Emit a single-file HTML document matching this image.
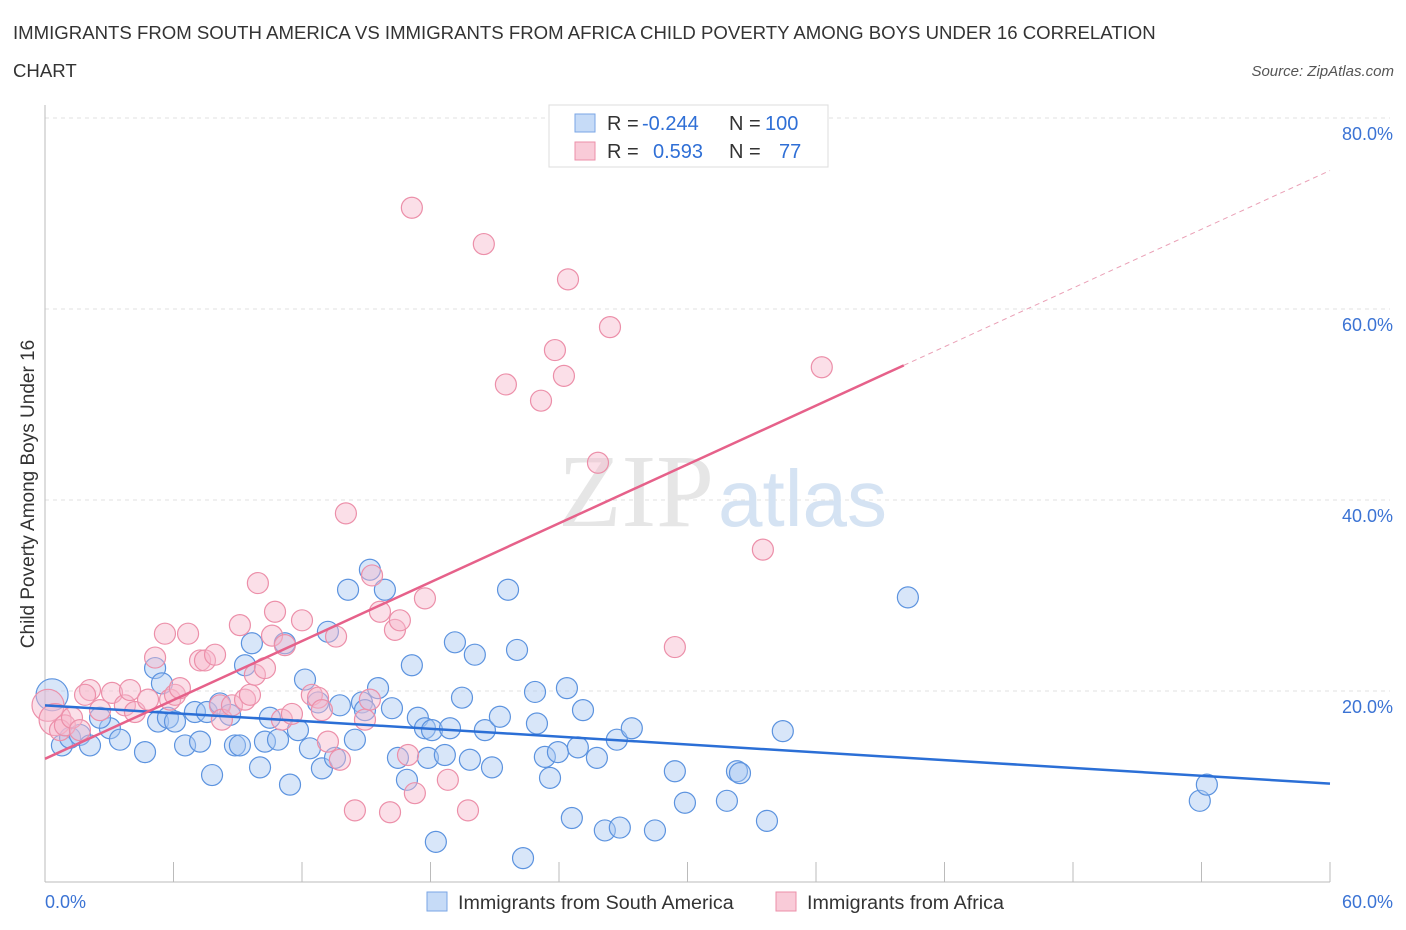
<!DOCTYPE html>
<html><head><meta charset="utf-8"><style>
body{margin:0;background:#fff;font-family:"Liberation Sans",sans-serif}
svg{display:block}
</style></head><body>
<svg id="chart" width="1406" height="930" xmlns="http://www.w3.org/2000/svg">
<text x="13" y="39" font-size="18.6" fill="#333">IMMIGRANTS FROM SOUTH AMERICA VS IMMIGRANTS FROM AFRICA CHILD POVERTY AMONG BOYS UNDER 16 CORRELATION</text>
<text x="13" y="77" font-size="18.6" fill="#333">CHART</text>
<text x="1394" y="76" font-size="15" fill="#555" font-style="italic" text-anchor="end">Source: ZipAtlas.com</text>
<g id="grid"></g>
<text x="714" y="526" font-size="104" fill="#e6e6e6" text-anchor="end" font-family="Liberation Serif">ZIP</text>
<text x="718" y="526" font-size="80" fill="#d5e3f3">atlas</text>
<g id="marks"></g>
<text transform="translate(34,494) rotate(-90)" font-size="19" fill="#333" text-anchor="middle">Child Poverty Among Boys Under 16</text>
<g>
<rect x="549" y="105" width="279" height="62" fill="#fff" stroke="#ddd"/>
<rect x="575" y="114" width="20" height="18" fill="#c6dbf7" stroke="#7aa6e6"/>
<text x="607" y="130" font-size="20" fill="#333">R = </text><text x="642" y="130" font-size="20" fill="#2f6fd6">-0.244</text>
<text x="729" y="130" font-size="20" fill="#333">N = </text><text x="765" y="130" font-size="20" fill="#2f6fd6">100</text>
<rect x="575" y="142" width="20" height="18" fill="#f9cbd8" stroke="#ec8fa9"/>
<text x="607" y="158" font-size="20" fill="#333">R = </text><text x="653" y="158" font-size="20" fill="#2f6fd6">0.593</text>
<text x="729" y="158" font-size="20" fill="#333">N = </text><text x="779" y="158" font-size="20" fill="#2f6fd6">77</text>
</g>
<g>
<rect x="427" y="892" width="20" height="19" fill="#c6dbf7" stroke="#7aa6e6"/>
<text x="458" y="909" font-size="19.7" fill="#333">Immigrants from South America</text>
<rect x="776" y="892" width="20" height="19" fill="#f9cbd8" stroke="#ec8fa9"/>
<text x="807" y="909" font-size="19.7" fill="#333">Immigrants from Africa</text>
</g>
</svg>
<script>
const yTicks=[20,40,60,80];
const xTickLabels=["0.0%","60.0%"];
const blueX=[0.33,0.79,1.17,1.63,2.10,3.03,3.50,2.57,4.67,5.14,5.46,5.28,5.74,6.07,6.54,7.00,7.24,7.56,7.80,8.17,8.64,8.87,9.10,9.34,9.66,10.04,10.27,10.50,10.88,11.20,11.44,11.81,12.14,12.37,12.75,12.93,13.21,13.54,13.77,14.15,14.47,14.80,14.94,15.17,15.55,15.87,16.20,16.48,16.90,17.13,17.41,17.74,17.88,18.07,18.25,18.67,18.91,19.14,19.47,19.84,20.07,20.54,20.87,21.24,21.62,22.04,22.32,22.88,22.97,23.34,23.58,23.95,24.37,24.60,24.88,25.12,25.77,26.14,26.70,26.84,27.40,28.48,29.41,29.88,31.84,32.31,32.45,33.71,34.45,40.29,53.92,54.25];
const blueY=[19.6,14.3,15.1,15.4,14.3,16.1,14.9,17.2,13.6,22.4,20.8,16.8,17.2,16.8,14.3,17.8,14.7,17.8,11.2,18.7,17.5,14.3,14.3,22.7,25.0,12.0,14.7,17.2,14.9,25.0,10.2,15.9,21.2,14.0,18.8,11.9,26.2,13.0,18.5,30.6,14.9,18.8,18.0,32.7,20.3,30.6,18.2,13.0,10.7,22.7,17.2,16.1,13.0,15.9,4.2,13.3,16.1,25.1,19.3,12.8,23.8,15.9,12.0,17.3,30.6,24.3,2.5,19.9,16.6,13.1,10.9,13.6,20.3,6.7,14.1,18.0,13.0,5.4,14.9,5.7,16.1,5.4,11.6,8.3,8.5,11.6,11.4,6.4,15.8,29.8,8.5,10.2];
const pinkX=[0.14,0.47,0.70,0.93,1.26,1.63,2.10,1.87,2.57,3.13,3.73,3.97,4.20,4.81,5.14,5.60,5.84,6.07,6.30,6.68,7.24,7.47,7.94,8.17,8.26,8.73,9.10,9.34,9.57,9.80,9.94,10.27,10.60,10.74,11.20,11.06,11.53,12.00,12.46,12.75,12.93,13.21,13.59,13.77,14.05,14.47,14.94,15.17,15.27,15.64,16.11,16.34,16.57,16.95,17.13,17.27,17.74,18.81,19.75,20.49,21.52,23.16,23.81,24.23,24.42,25.82,26.38,29.41,33.52,36.27];
const pinkY=[18.5,17.0,15.9,16.4,17.2,15.9,20.1,19.6,18.0,19.8,18.5,20.1,17.8,19.1,23.5,26.0,19.1,19.6,20.3,26.0,23.2,23.2,23.8,18.5,17.0,18.5,26.9,19.1,19.6,21.7,31.3,22.4,25.8,28.3,24.8,17.0,17.6,27.4,19.6,19.3,18.0,14.7,25.7,12.8,38.6,7.5,17.0,19.1,32.1,28.3,7.3,26.4,27.4,13.3,70.6,9.3,29.7,10.7,7.5,66.8,52.1,50.4,55.7,53.0,63.1,43.9,58.1,24.6,34.8,53.9];
const blueTrend=[18.5,10.3];
const pinkTrend=[12.9,54.1,74.5];
const pinkSolidEnd=40.1;
const NS="http://www.w3.org/2000/svg";
const X0=45,X1=1330,Y0=882,Y1=118;
const sx=v=>X0+(v/60)*(X1-X0);
const sy=v=>Y0-(v/80)*(Y0-Y1);
function mk(tag,attrs,parent){const e=document.createElementNS(NS,tag);for(const k in attrs)e.setAttribute(k,attrs[k]);parent.appendChild(e);return e;}
const grid=document.getElementById('grid'),marks=document.getElementById('marks');
yTicks.forEach(t=>{
const l=mk('line',{x1:X0,x2:1390,y1:sy(t),y2:sy(t),stroke:'#e2e2e2','stroke-dasharray':'4,4'},grid);


const tx=mk('text',{x:1393,y:sy(t)+22,'font-size':18,fill:'#3b73d4','text-anchor':'end'},grid);
tx.textContent=t.toFixed(1)+'%';


});
const ax=mk('line',{x1:X0,x2:X0,y1:105,y2:Y0,stroke:'#bbb'},grid);


const bx=mk('line',{x1:X0,x2:X1,y1:Y0,y2:Y0,stroke:'#bbb'},grid);


for(let i=0;i<=10;i++){const x=sx(i*6);const t=mk('line',{x1:x,x2:x,y1:862,y2:Y0,stroke:'#bbb'},grid);

}
xTickLabels.forEach((s,i)=>{const t=mk('text',{x:i?1393:45,y:908,'font-size':18,fill:'#3b73d4','text-anchor':i?'end':'start'},grid);t.textContent=s;

});
function dots(xs,ys,fill,stroke,name){xs.forEach((x,i)=>{const r=(x<0.5)?16:10.5;
const c=mk('circle',{cx:sx(x),cy:sy(ys[i]),r:r,fill:fill,'fill-opacity':0.45,stroke:stroke,'stroke-width':1.2},marks);

});}
dots(blueX,blueY,'#a9c8f2','#5c93df','point-south-america');
dots(pinkX,pinkY,'#f7b9cb','#ec8fa9','point-africa');
const bl=mk('line',{x1:sx(0),y1:sy(blueTrend[0]),x2:sx(60),y2:sy(blueTrend[1]),stroke:'#2b6fd6','stroke-width':2.5},marks);


const pl=mk('line',{x1:sx(0),y1:sy(pinkTrend[0]),x2:sx(pinkSolidEnd),y2:sy(pinkTrend[1]),stroke:'#e6618a','stroke-width':2.5},marks);


const pd=mk('line',{x1:sx(pinkSolidEnd),y1:sy(pinkTrend[1]),x2:sx(60),y2:sy(pinkTrend[2]),stroke:'#eaa0b6','stroke-width':1,'stroke-dasharray':'5,4'},marks);


</script>
</body></html>
